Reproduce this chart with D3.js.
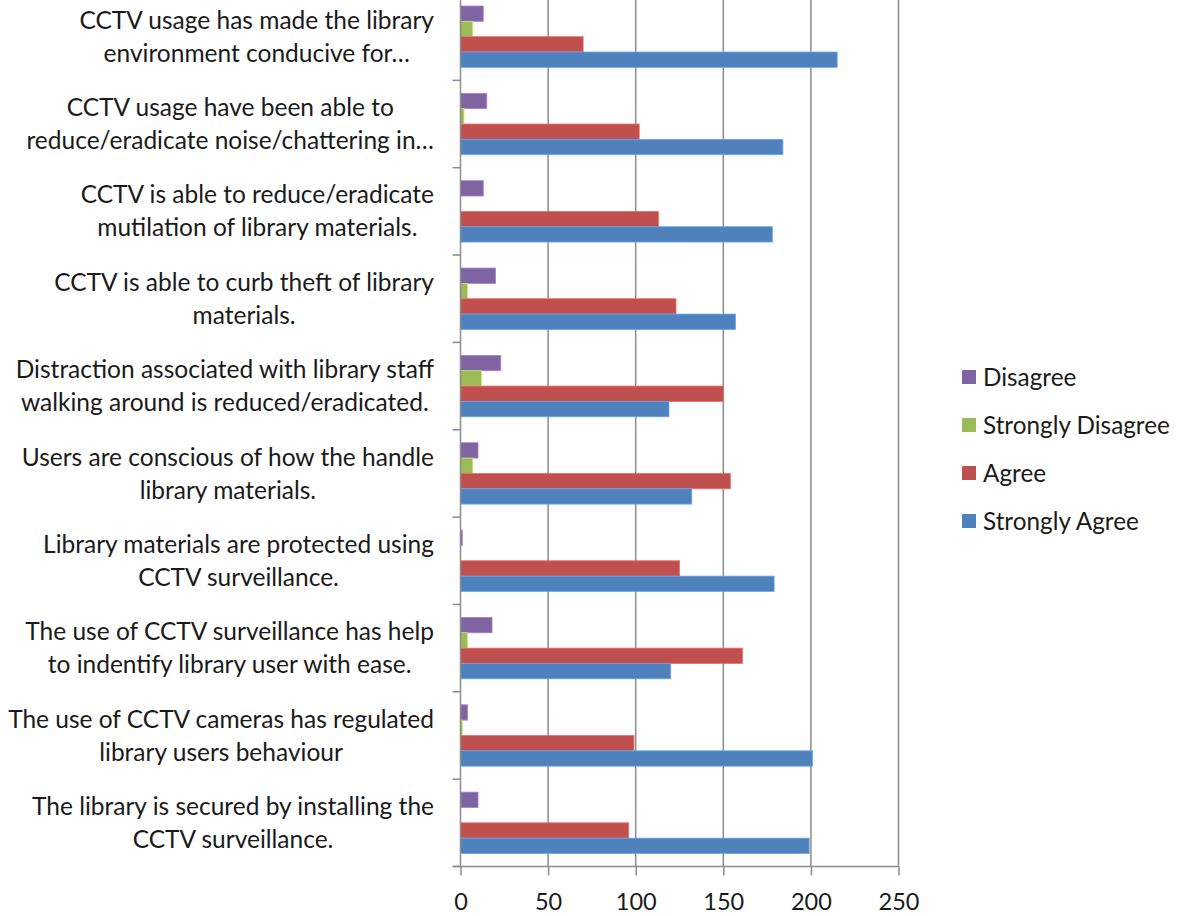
<!DOCTYPE html>
<html>
<head>
<meta charset="utf-8">
<style>
    body { margin: 0; background: #fff; }
    svg { display: block; font-family: 'Lato', 'Open Sans', sans-serif; }
</style>
</head>
<body>
<svg width="1184" height="916"></svg>

<script src="https://d3js.org/d3.v7.min.js"></script>
<script>
    // categories, top to bottom, each split into its two label lines
    let categories = [
        ["CCTV usage has made the library", "environment conducive for\u2026"],
        ["CCTV usage have been able to", "reduce/eradicate noise/chattering in\u2026"],
        ["CCTV is able to reduce/eradicate", "mutilation of library materials."],
        ["CCTV is able to curb theft of library", "materials."],
        ["Distraction associated with library staff", "walking around is reduced/eradicated."],
        ["Users are conscious of how the handle", "library materials."],
        ["Library materials are protected using", "CCTV surveillance."],
        ["The use of CCTV surveillance has help", "to indentify library user with ease."],
        ["The use of CCTV cameras has regulated", "library users behaviour"],
        ["The library is secured by installing the", "CCTV surveillance."]
    ]

    let seriesNames = ["Disagree", "Strongly Disagree", "Agree", "Strongly Agree"]
    let seriesColors = ["#8064A2", "#9BBB59", "#C0504D", "#4F81BD"]

    let disagree = [13, 15, 13, 20, 23, 10, 1, 18, 4, 10]
    let stronglyDisagree = [7, 2, 0, 4, 12, 7, 0, 4, 1, 0]
    let agree = [70, 102, 113, 123, 150, 154, 125, 161, 99, 96]
    let stronglyAgree = [215, 184, 178, 157, 119, 132, 179, 120, 201, 199]

    let xTicks = [0, 50, 100, 150, 200, 250]

    let seriesValues = [disagree, stronglyDisagree, agree, stronglyAgree]

    let svg = d3.select("svg")

    let x = d3.scaleLinear()
        .domain([0, 250])
        .range([460.5, 898.5])

    let y = d3.scaleBand()
        .domain(d3.range(categories.length))
        .range([-7, 866.5])

    let groupPad = 13
    let inner = d3.scaleBand()
        .domain(d3.range(seriesNames.length))
        .range([groupPad, y.bandwidth() - groupPad])

    let gridColor = "#8c8c8c"

    // vertical gridlines
    svg.append("g")
        .selectAll("line")
        .data(xTicks.slice(1))
        .join("line")
        .attr("x1", d => x(d))
        .attr("x2", d => x(d))
        .attr("y1", -7)
        .attr("y2", 866.5)
        .style("stroke", gridColor)
        .style("stroke-width", 1.5)

    // bars
    let rows = []
    categories.forEach((c, i) => {
        seriesValues.forEach((vals, s) => {
            rows.push({ cat: i, s: s, v: vals[i] })
        })
    })

    svg.append("g")
        .selectAll("rect")
        .data(rows.filter(d => d.v > 0))
        .join("rect")
        .attr("x", x(0))
        .attr("y", d => y(d.cat) + inner(d.s))
        .attr("width", d => x(d.v) - x(0))
        .attr("height", inner.bandwidth())
        .style("fill", d => seriesColors[d.s])
        .style("stroke", d => d3.color(seriesColors[d.s]).brighter(0.7))
        .style("stroke-width", 0.8)

    // y axis line and tick marks
    svg.append("line")
        .attr("x1", x(0)).attr("x2", x(0))
        .attr("y1", -7).attr("y2", 866.5)
        .style("stroke", gridColor)
        .style("stroke-width", 1.5)

    svg.append("g")
        .selectAll("line")
        .data(d3.range(categories.length))
        .join("line")
        .attr("x1", x(0) - 8)
        .attr("x2", x(0))
        .attr("y1", d => y(d) + y.bandwidth())
        .attr("y2", d => y(d) + y.bandwidth())
        .style("stroke", gridColor)
        .style("stroke-width", 1.5)

    // x axis
    let xAxis = svg.append("g")
        .attr("transform", "translate(0,866.5)")
        .call(d3.axisBottom(x).tickValues(xTicks).tickSize(9).tickPadding(18))

    xAxis.select(".domain")
        .attr("d", "M" + (x(0) - 8) + ",0H" + x(250))
        .style("stroke", gridColor)
        .style("stroke-width", 1.5)
    xAxis.selectAll(".tick line")
        .style("stroke", gridColor)
        .style("stroke-width", 1.5)
    xAxis.selectAll(".tick text")
        .style("font-family", "Lato, sans-serif")
        .style("font-size", "23.5px")
        .style("fill", "#1a1a1a")

    // category labels: two centred lines, block right-aligned
    let labelRight = 434
    let lineGap = 33
    categories.forEach((lines, i) => {
        let cy = y(i) + y.bandwidth() / 2
        let g = svg.append("g")
        let texts = lines.map((t, k) => g.append("text")
            .attr("y", cy + (k - 0.5) * lineGap)
            .attr("dy", "0.35em")
            .attr("text-anchor", "middle")
            .style("font-size", "24.5px")
            .style("fill", "#1a1a1a")
            .text(t))
        let w = d3.max(texts, t => t.node().getComputedTextLength())
        texts.forEach(t => t.attr("x", labelRight - w / 2))
    })

    // legend
    let legend = svg.append("g")
        .selectAll("g")
        .data(seriesNames)
        .join("g")
        .attr("transform", (d, i) => "translate(962," + (377 + i * 48) + ")")

    legend.append("rect")
        .attr("x", 0)
        .attr("y", -7)
        .attr("width", 14)
        .attr("height", 14)
        .style("fill", (d, i) => seriesColors[i])

    legend.append("text")
        .attr("x", 21)
        .attr("dy", "0.35em")
        .style("font-size", "24.3px")
        .style("fill", "#1a1a1a")
        .text(d => d)
</script>
</body>
</html>
